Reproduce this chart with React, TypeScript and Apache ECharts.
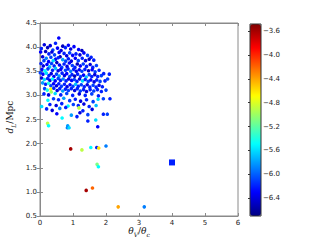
import React, { useEffect, useRef } from "react";
import * as echarts from "echarts";

// [theta_V/theta_c, d_L (Mpc), colour value]
const clusterPoints: number[][] = [
  [0.57,4.19,-6.3],[0.13,4.05,-6.4],[0.31,4.03,-6.4],[0.47,4.08,-6.2],[0.69,4.02,-6.5],[0.86,4.04,-6.3],[0.04,3.97,-6.2],[0.23,3.99,-6.5],[0.39,3.94,-6.1],[0.53,3.98,-6.3],[0.64,3.93,-6.4],[0.93,3.96,-6.4],[1.03,4.01,-6.3],[1.17,3.95,-6.3],[0.77,3.99,-6.2],[1.27,3.93,-6.5],
  [0.02,3.9,-6.3],[0.17,3.91,-6.5],[0.27,3.86,-6.2],[0.36,3.9,-6.4],[0.44,3.84,-6.1],[0.58,3.89,-6.3],[0.61,3.8,-6.5],[0.73,3.87,-6.2],[0.81,3.82,-6.4],[0.9,3.88,-6.1],[0.99,3.83,-6.3],[1.09,3.86,-6.2],[1.21,3.84,-6.4],[1.33,3.88,-6.3],[1.44,3.83,-6.1],[1.55,3.79,-6.2],
  [0.08,3.8,-6.4],[0.19,3.77,-5.9],[0.33,3.79,-6.1],[0.47,3.75,-6.3],[0.55,3.78,-6.2],[0.69,3.74,-5.8],[0.86,3.76,-6.2],[0.95,3.71,-6.4],[1.07,3.77,-6.3],[1.16,3.72,-6.1],[1.28,3.77,-6.2],[1.38,3.72,-6.4],[1.49,3.75,-6.5],[1.63,3.73,-6.2],[0.12,3.72,-6.1],[0.26,3.7,-6.3],[0.4,3.72,-5.6],[0.78,3.71,-6.1],
  [0.03,3.66,-6.2],[0.1,3.61,-6.4],[0.21,3.64,-6.3],[0.29,3.59,-5.7],[0.35,3.66,-6.1],[0.43,3.61,-6.2],[0.51,3.68,-6.5],[0.59,3.63,-6.3],[0.66,3.58,-6.1],[0.73,3.65,-6.2],[0.82,3.6,-6.4],[0.89,3.67,-6.3],[0.98,3.62,-6.1],[1.06,3.58,-6.2],[1.13,3.65,-6.5],[1.22,3.61,-6.3],[1.31,3.65,-6.1],[1.41,3.6,-6.2],[1.52,3.64,-6.4],[1.6,3.58,-6.2],[1.71,3.62,-6.1],
  [0.06,3.54,-6.3],[0.15,3.51,-5.5],[0.24,3.55,-6.1],[0.38,3.52,-6.2],[0.47,3.56,-5.7],[0.55,3.51,-6.4],[0.63,3.54,-6.3],[0.77,3.52,-6.1],[0.85,3.55,-6.2],[0.93,3.5,-5.9],[1.02,3.54,-6.2],[1.1,3.5,-6.4],[1.19,3.53,-6.3],[1.27,3.5,-6.1],[1.36,3.54,-6.2],[1.47,3.51,-6.5],[1.58,3.53,-6.3],[1.67,3.49,-6.1],[1.79,3.52,-6.2],
  [0.01,3.47,-6.1],[0.09,3.44,-6.3],[0.19,3.46,-5.6],[0.27,3.41,-6.2],[0.34,3.45,-6.4],[0.42,3.39,-6.3],[0.5,3.44,-6.1],[0.58,3.4,-5.8],[0.67,3.46,-6.2],[0.74,3.41,-6.4],[0.81,3.45,-6.3],[0.9,3.39,-6.1],[0.97,3.43,-6.2],[1.05,3.4,-6.5],[1.14,3.44,-6.2],[1.23,3.39,-6.1],[1.32,3.42,-6.3],[1.4,3.38,-5.7],[1.49,3.43,-6.1],[1.57,3.39,-6.2],[1.66,3.43,-6.4],[1.75,3.39,-6.2],[1.86,3.41,-6.1],[1.93,3.45,-6.2],[2.1,3.44,-6.2],
  [0.05,3.36,-6.4],[0.13,3.33,-5.6],[0.23,3.35,-6.2],[0.3,3.31,-6.4],[0.38,3.34,-5.5],[0.46,3.3,-6.3],[0.55,3.35,-6.1],[0.62,3.31,-6.2],[0.7,3.34,-5.9],[0.79,3.3,-6.2],[0.87,3.34,-6.4],[0.96,3.31,-6.3],[1.04,3.33,-6.1],[1.12,3.29,-6.2],[1.2,3.34,-6.4],[1.29,3.3,-5.6],[1.37,3.33,-6.2],[1.46,3.29,-6.1],[1.54,3.32,-6.3],[1.64,3.28,-6.4],[1.72,3.32,-6.2],[1.82,3.29,-6.1],[1.97,3.3,-6.2],[2.05,3.34,-6.1],
  [0.08,3.26,-5.8],[0.17,3.23,-6.2],[0.26,3.25,-5.4],[0.33,3.2,-6.1],[0.41,3.24,-6.3],[0.5,3.2,-6.4],[0.57,3.24,-6.2],[0.65,3.19,-6.1],[0.74,3.23,-6.2],[0.82,3.18,-6.4],[0.91,3.22,-6.3],[1.0,3.19,-6.1],[1.08,3.23,-5.7],[1.16,3.19,-6.2],[1.25,3.22,-6.1],[1.34,3.18,-6.2],[1.43,3.22,-6.4],[1.51,3.17,-6.2],[1.61,3.21,-6.1],[1.7,3.17,-6.2],[1.79,3.21,-6.4],[1.89,3.18,-6.2],
  [0.14,3.14,-6.1],[0.22,3.11,-5.4],[0.33,3.13,-4.7],[0.42,3.15,-6.2],[0.52,3.1,-6.4],[0.6,3.14,-6.2],[0.69,3.09,-5.8],[0.77,3.13,-6.2],[0.86,3.1,-6.1],[0.95,3.14,-6.2],[1.05,3.1,-6.4],[1.13,3.14,-6.2],[1.22,3.09,-6.1],[1.32,3.12,-6.2],[1.41,3.08,-6.4],[1.52,3.12,-6.2],[1.63,3.09,-6.1],[1.74,3.12,-6.2],[1.86,3.08,-6.2],[2.0,3.11,-6.1],
  [0.34,3.07,-5.0],[0.12,3.03,-6.2],[0.26,3.01,-6.4],[0.46,3.04,-5.6],[0.63,3.01,-6.2],[0.81,3.04,-6.1],[0.99,3.0,-6.2],[1.19,3.03,-6.4],[1.37,3.0,-6.2],[1.57,3.03,-6.1],[1.77,2.99,-6.2],[1.92,2.93,-6.1],[2.12,2.93,-6.2],
  [0.24,2.9,-5.5],[0.41,2.93,-6.1],[0.56,2.91,-6.2],[0.72,2.94,-5.8],[0.9,2.89,-6.1],[1.07,2.92,-6.2],[1.23,2.88,-6.4],[1.41,2.91,-6.2],[1.61,2.87,-6.1],[1.76,2.92,-5.6],
  [0.3,2.81,-6.2],[0.49,2.79,-6.4],[0.66,2.83,-6.2],[0.85,2.78,-5.5],[1.01,2.81,-6.1],[1.16,2.79,-6.2],[1.33,2.82,-6.4],[1.49,2.77,-6.2],[1.7,2.79,-5.7],
  [0.05,2.77,-5.6],[0.2,2.72,-6.2],[0.37,2.69,-6.4],[0.6,2.73,-5.9],[0.78,2.75,-6.2],[1.18,2.74,-4.9],[1.3,2.68,-6.2],[1.58,2.71,-6.4],[1.92,2.61,-6.2],[2.04,2.61,-6.1],
  [0.51,2.62,-6.3],[0.67,2.53,-5.5],[0.95,2.59,-5.8],[1.12,2.56,-6.2],[1.21,2.64,-6.4],[1.45,2.6,-6.1],
  [0.23,2.42,-4.9],[0.26,2.37,-5.5],[0.84,2.37,-5.8],[0.83,2.33,-5.9],[0.88,2.33,-5.6],[1.45,2.47,-6.2],[1.69,2.49,-5.6],[1.75,2.35,-6.3],
  [0.93,1.89,-3.6],[1.27,1.87,-4.9],[1.54,1.92,-5.5],[1.72,1.92,-6.2],[1.78,1.91,-4.6],[2.0,1.95,-5.9],
  [1.73,1.57,-5.1],[1.77,1.52,-5.5],[1.4,1.03,-3.6],[1.59,1.08,-4.2],[2.37,0.69,-4.4],[3.16,0.69,-5.9],
];

const squarePoints: number[][] = [[4.0, 1.61, -6.2]];

const xTicks = [0, 1, 2, 3, 4, 5, 6];
const yTicks = [0.5, 1.0, 1.5, 2.0, 2.5, 3.0, 3.5, 4.0, 4.5];
const cbarTicks = [-6.4, -6.0, -5.6, -5.2, -4.8, -4.4, -4.0, -3.6];
const cbarMin = -6.7;
const cbarMax = -3.48;
const jetColors = ["#000080", "#0000ff", "#0080ff", "#00ffff", "#80ff80", "#ffff00", "#ff8000", "#ff0000", "#800000"];

const frameColor = "#8a8a8a";
const labelStyle = { fontFamily: "DejaVu Sans", fontSize: 7, color: "#222" };

export default function App() {
  const ref = useRef<HTMLDivElement>(null);
  useEffect(() => {
    if (!ref.current) return;
    const chart = echarts.init(ref.current, undefined, { renderer: "svg" });
    const tickCommon = { show: true, inside: true, length: 3, lineStyle: { color: frameColor, width: 1 } };
    const richLabel = {
      i: { fontFamily: "DejaVu Serif", fontStyle: "italic", fontSize: 9, lineHeight: 12, fill: "#111" },
      n: { fontFamily: "DejaVu Serif", fontSize: 9, lineHeight: 12, fill: "#111" },
      s: { fontFamily: "DejaVu Serif", fontStyle: "italic", fontSize: 6, lineHeight: 12, verticalAlign: "bottom", fill: "#111" },
    };
    const option: any = {
      animation: false,
      backgroundColor: "#fff",
      grid: [
        { left: 40, top: 23, width: 198, height: 193, show: true, borderColor: frameColor, borderWidth: 1, backgroundColor: "transparent" },
        { left: 250, top: 24, width: 11, height: 192, show: true, borderColor: "#333", borderWidth: 1, backgroundColor: "transparent", z: 10 },
      ],
      xAxis: [
        {
          gridIndex: 0, type: "value", min: 0, max: 6, interval: 1,
          axisLine: { show: true, lineStyle: { color: frameColor } },
          axisTick: tickCommon,
          splitLine: { show: false },
          axisLabel: { ...labelStyle, margin: 3, customValues: xTicks, formatter: (v: number) => String(v) },
        },
        {
          gridIndex: 0, type: "value", min: 0, max: 6, interval: 1, position: "top",
          axisLine: { show: true, lineStyle: { color: frameColor } },
          axisTick: tickCommon, splitLine: { show: false }, axisLabel: { show: false },
        },
        { gridIndex: 1, type: "value", min: 0, max: 1, show: false },
      ],
      yAxis: [
        {
          gridIndex: 0, type: "value", min: 0.5, max: 4.5, interval: 0.5,
          axisLine: { show: true, lineStyle: { color: frameColor } },
          axisTick: tickCommon,
          splitLine: { show: false },
          axisLabel: { ...labelStyle, margin: 3, customValues: yTicks, formatter: (v: number) => v.toFixed(1) },
        },
        {
          gridIndex: 0, type: "value", min: 0.5, max: 4.5, interval: 0.5, position: "right",
          axisLine: { show: true, lineStyle: { color: frameColor } },
          axisTick: tickCommon, splitLine: { show: false }, axisLabel: { show: false },
        },
        {
          gridIndex: 1, type: "value", min: cbarMin, max: cbarMax, position: "right",
          axisLine: { show: false },
          axisTick: { show: true, inside: true, length: 2, customValues: cbarTicks, lineStyle: { color: "#333" } },
          splitLine: { show: false },
          axisLabel: { ...labelStyle, margin: 2, customValues: cbarTicks, formatter: (v: number) => "\u2212" + Math.abs(v).toFixed(1) },
        },
      ],
      visualMap: {
        type: "continuous",
        min: cbarMin, max: cbarMax,
        dimension: 2,
        seriesIndex: [0, 1],
        inRange: { color: jetColors },
        show: true,
        left: 250, top: 24,
        itemWidth: 11, itemHeight: 192,
        padding: 0,
        text: null,
        showLabel: false,
        calculable: false,
        hoverLink: false,
        realtime: false,
      },
      series: [
        {
          type: "scatter", xAxisIndex: 0, yAxisIndex: 0,
          data: clusterPoints, symbol: "circle", symbolSize: 3.6,
          itemStyle: { opacity: 1 },
        },
        {
          type: "scatter", xAxisIndex: 0, yAxisIndex: 0,
          data: squarePoints, symbol: "rect", symbolSize: 6,
          itemStyle: { opacity: 1 },
        },
      ],
      graphic: [
        {
          type: "text", x: 139, y: 231,
          style: { text: "{i|θ}{s|V}{n|/}{i|θ}{s|c}", align: "center", verticalAlign: "middle", rich: richLabel },
        },
        {
          type: "text", x: 10, y: 117, rotation: Math.PI / 2,
          style: { text: "{i|d}{s|L}{n|/Mpc}", align: "center", verticalAlign: "middle", rich: richLabel },
        },
      ],
    };
    chart.setOption(option);
    return () => chart.dispose();
  }, []);
  return <div ref={ref} style={{ position: "fixed", left: 0, top: 0, width: 320, height: 240 }} />;
}
